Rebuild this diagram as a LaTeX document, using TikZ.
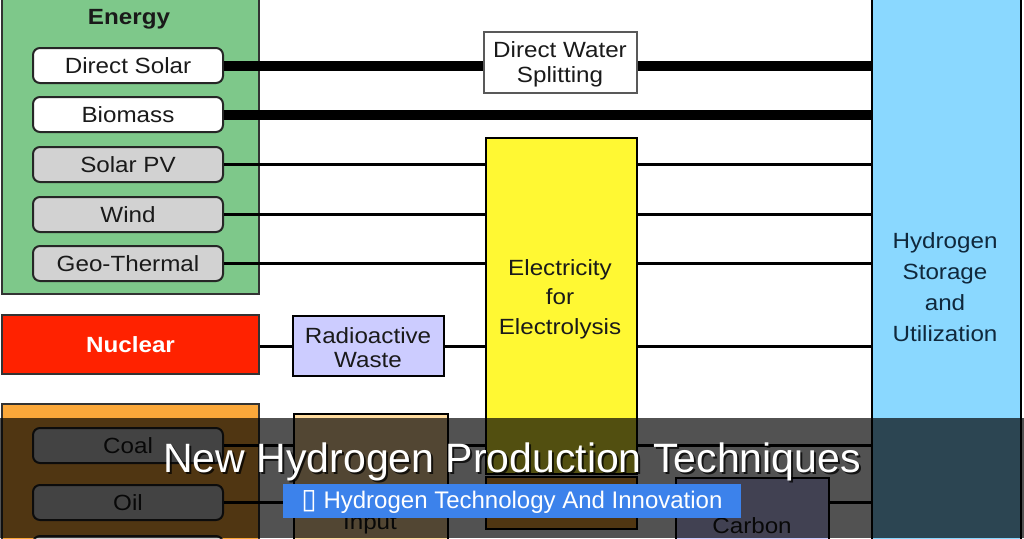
\documentclass[tikz,border=0pt]{standalone}
\usepackage{fontspec}
\setmainfont{Liberation Sans}
\newfontfamily\dfont[FakeStretch=1.1]{Liberation Sans}
\newfontfamily\symfont{DejaVu Sans}
\definecolor{rengreen}{HTML}{7EC88A}
\definecolor{srcgray}{HTML}{D2D2D2}
\definecolor{elyellow}{HTML}{FFF833}
\definecolor{hblue}{HTML}{8AD8FF}
\definecolor{lav}{HTML}{CCCCFF}
\definecolor{nucred}{HTML}{FF2200}
\definecolor{fossor}{HTML}{FBA83A}
\definecolor{tan}{HTML}{FFDCA0}
\definecolor{subblue}{HTML}{3C82EB}
\definecolor{inktext}{HTML}{1A1A1A}
\definecolor{navytext}{HTML}{10283C}
\tikzset{
  diag/.style={font=\dfont\fontsize{22}{26}\selectfont, text=inktext, align=center, inner sep=0pt},
  group/.style={diag, draw=black!80, line width=2pt, anchor=north west},
  src/.style={diag, draw=black!85, line width=2pt, rounded corners=7pt,
    minimum width=190pt, minimum height=35pt, anchor=north west},
  whitesrc/.style={src, fill=white},
  graysrc/.style={src, fill=srcgray},
  proc/.style={diag, draw=black, line width=2pt, anchor=north west},
  thickline/.style={line width=10pt},
  thinline/.style={line width=3pt},
}
\begin{document}
\begin{tikzpicture}[x=1pt,y=-1pt]
\useasboundingbox (0,0) rectangle (1024,538);
\clip (0,0) rectangle (1024,538);
\fill[white] (0,0) rectangle (1024,538);

% group boxes
\node[group, fill=rengreen, minimum width=257pt, minimum height=340pt, anchor=south west] (ren) at (1,295) {};
\node[diag, font=\dfont\bfseries\fontsize{22}{25}\selectfont] (rentitle) at (129,6) {Renewable\\Energy};
\node[group, fill=nucred, minimum width=257pt, minimum height=59pt] (nuc) at (1,314)
  {\textcolor{white}{\bfseries Nuclear}};
\node[group, fill=fossor, minimum width=257pt, minimum height=160pt] (foss) at (1,403) {};

% sources
\node[whitesrc] (ds) at (32,47) {Direct Solar};
\node[whitesrc] (bio) at (32,96) {Biomass};
\node[graysrc] (pv) at (32,146) {Solar PV};
\node[graysrc] (wind) at (32,196) {Wind};
\node[graysrc] (geo) at (32,245) {Geo-Thermal};
\node[graysrc] (coal) at (32,427) {Coal};
\node[graysrc] (oil) at (32,484) {Oil};
\node[graysrc] (gas) at (32,535) {};

% processes
\node[proc, draw=black!65, fill=white, minimum width=153pt, minimum height=61pt] (dws) at (483,31) {};
\node[diag, font=\dfont\fontsize{22}{25}\selectfont] (dwslbl) at (560,64) {Direct Water\\Splitting};
\node[proc, fill=elyellow, minimum width=151pt, minimum height=336pt] (elec) at (485,137) {};
\node[diag, font=\dfont\fontsize{22}{29.5}\selectfont] (eleclbl) at (560,299) {Electricity\\for\\Electrolysis};
\node[proc, fill=fossor, minimum width=151pt, minimum height=52pt] (heat) at (485,476) {};
\node[proc, fill=lav, minimum width=151pt, minimum height=60pt] (waste) at (292,315) {};
\node[diag, font=\dfont\fontsize{22}{24}\selectfont] (wastelbl) at (368,348) {Radioactive\\Waste};
\node[proc, fill=tan, minimum width=154pt, minimum height=160pt] (input) at (293,413) {};
\node[diag] (inputlbl) at (370,524) {Input};
\node[proc, fill=lav, minimum width=153pt, minimum height=100pt] (carbon) at (675,477) {};
\node[diag] (carbonlbl) at (752,526) {Carbon};
\node[proc, fill=hblue, minimum width=149pt, minimum height=580pt] (h2) at (871,-20) {};
\node[diag, text=navytext, font=\dfont\fontsize{22}{31}\selectfont] (h2lbl) at (945,287)
  {Hydrogen\\Storage\\and\\Utilization};

% connectors
\draw[thickline] (ds.east) -- (ds.east -| dws.west);
\draw[thickline] (ds.east -| dws.east) -- (ds.east -| h2.west);
\draw[thickline] (bio.east) -- (bio.east -| h2.west);
\foreach \s in {pv,wind,geo}{
  \draw[thinline] (\s.east) -- (\s.east -| elec.west);
  \draw[thinline] (\s.east -| elec.east) -- (\s.east -| h2.west);
}
\draw[thinline] (waste.west -| nuc.east) -- (waste.west);
\draw[thinline] (waste.east) -- (waste.east -| elec.west);
\draw[thinline] (waste.east -| elec.east) -- (waste.east -| h2.west);
\draw[thinline] (coal.east) -- (coal.east -| input.west);
\draw[thinline] (coal.east -| input.east) -- (coal.east -| elec.west);
\draw[thinline] (coal.east -| elec.east) -- (coal.east -| h2.west);
\draw[thinline] (oil.east) -- (oil.east -| input.west);
\draw[thinline] (oil.east -| carbon.east) -- (oil.east -| h2.west);

% overlay band
\fill[black, opacity=0.68] (0,418) rectangle (1024,538);
\node[anchor=base, inner sep=0pt, font=\fontsize{41}{48}\selectfont, text=black, opacity=0.75]
  (titleshadow) at (514,474) {New Hydrogen Production Techniques};
\node[anchor=base, inner sep=0pt, font=\fontsize{41}{48}\selectfont, text=white]
  (title) at (512,472) {New Hydrogen Production Techniques};
\node[fill=subblue, inner sep=0pt, minimum width=458pt, minimum height=34pt] (sub) at (512,500.5) {};
\node[anchor=base, inner sep=0pt, font=\fontsize{24}{28}\selectfont, text=white]
  (sublbl) at (512,508) {{\symfont\fontsize{28}{30}\selectfont ▯}\ Hydrogen Technology And Innovation};
\end{tikzpicture}
\end{document}
